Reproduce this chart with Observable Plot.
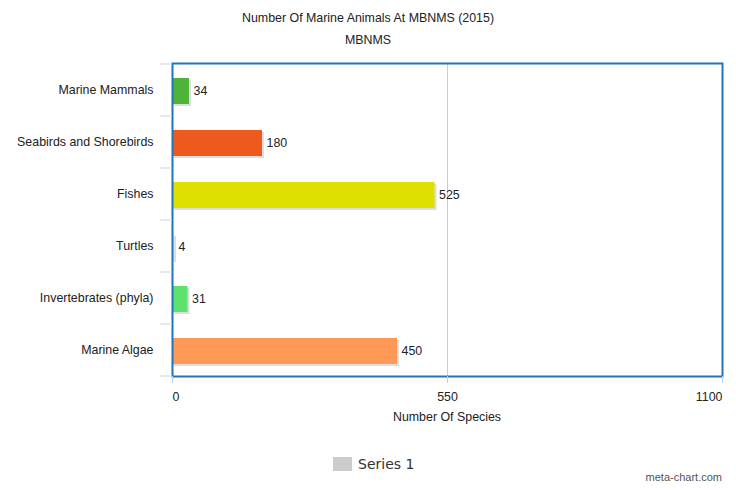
<!DOCTYPE html>
<html>
<head>
<meta charset="utf-8">
<script src="https://cdn.jsdelivr.net/npm/d3@7"></script>
<script src="https://cdn.jsdelivr.net/npm/@observablehq/plot@0.6"></script>
<style>
  html, body { margin: 0; padding: 0; background: #fff; }
  #wrap { position: relative; width: 736px; height: 490px; font-family: "Liberation Sans", Arial, sans-serif; }
  #chart { position: absolute; left: 0; top: 0; }
  .t { position: absolute; left: 0; width: 736px; text-align: center; color: #222; font-size: 12.4px; }
  #legend { position: absolute; left: 333px; top: 456px; display: flex; align-items: center; font-family: "DejaVu Sans", sans-serif; font-size: 14px; color: #333; }
  #legend .sw { width: 19px; height: 14px; background: #cccccc; margin-right: 6px; }
  #credit { position: absolute; right: 14px; top: 471px; font-size: 11px; color: #555; }
</style>
</head>
<body>
<div id="wrap">
  <div id="chart"></div>
  <div class="t" style="top:11px">Number Of Marine Animals At MBNMS (2015)</div>
  <div class="t" style="top:33px">MBNMS</div>
  <div id="legend"><div class="sw"></div><span>Series 1</span></div>
  <div id="credit">meta-chart.com</div>
</div>
<script>
const categories = ["Marine Mammals", "Seabirds and Shorebirds", "Fishes", "Turtles", "Invertebrates (phyla)", "Marine Algae"];
const values = [34, 180, 525, 4, 31, 450];
const colors = ["#4db339", "#ec5a1e", "#dde000", "#e6e6e6", "#5fe26b", "#ff9955"];
const xTicks = [0, 550, 1100];
const xLabel = "Number Of Species";

const data = categories.map((c, i) => ({category: c, value: values[i], color: colors[i]}));

const W = 736, H = 490;
const mL = 172, mR = 14, mT = 63, mB = 114;
const fmt = d => String(d);

const plot = Plot.plot({
  width: W, height: H,
  marginLeft: mL, marginRight: mR, marginTop: mT, marginBottom: mB,
  style: {fontFamily: "Liberation Sans, Arial, sans-serif", fontSize: "12.4px", color: "#222", background: "#fff"},
  x: {domain: [xTicks[0], xTicks[xTicks.length - 1]]},
  y: {domain: categories, padding: 0},
  marks: [
    Plot.ruleX([xTicks[1]], {stroke: "#cccccc", strokeWidth: 1}),
    Plot.axisY({tickSize: 0, tickPadding: 19, label: null, fontSize: 12.4}),
    // shadows
    Plot.barX(data, {y: "category", x: "value", fill: "#000", fillOpacity: 0.13, insetTop: 14, insetBottom: 12, dx: 2, dy: 2}),
    Plot.barX(data, {y: "category", x: "value", fill: "color", insetTop: 14, insetBottom: 12}),
    Plot.text(data, {y: "category", x: "value", text: d => String(d.value), textAnchor: "start", dx: 4, dy: 1, fontSize: 12.4, fill: "#222"}),
    Plot.frame({stroke: "#1f74ba", strokeWidth: 2}),
    Plot.axisX([xTicks[0]], {tickSize: 7, tickPadding: 9, textAnchor: "start", tickFormat: fmt, label: null, stroke: "#c0d0e0", fontSize: 12.4}),
    Plot.axisX([xTicks[1]], {tickSize: 7, tickPadding: 9, tickFormat: fmt, label: null, stroke: "#c0d0e0", fontSize: 12.4}),
    Plot.axisX([xTicks[2]], {tickSize: 7, tickPadding: 9, textAnchor: "end", tickFormat: fmt, label: null, stroke: "#c0d0e0", fontSize: 12.4}),
  ]
});

// category separator ticks extending left of axis, using the y scale
const ys = plot.scale("y");
const sel = d3.select(plot);
const sepData = categories.map(c => ys.apply(c)).concat([ys.apply(categories[categories.length - 1]) + ys.bandwidth]);
sel.append("g").selectAll("line").data(sepData).join("line")
  .attr("x1", mL - 12).attr("x2", mL).attr("y1", d => d).attr("y2", d => d)
  .attr("stroke", "#cfd6de").attr("stroke-width", 1);
// x axis label
sel.append("text").attr("x", plot.scale("x").apply(xTicks[1])).attr("y", H - mB + 45)
  .attr("text-anchor", "middle").attr("font-size", 12.4).attr("fill", "#222").text(xLabel);

document.getElementById("chart").appendChild(plot);
</script>
</body>
</html>
